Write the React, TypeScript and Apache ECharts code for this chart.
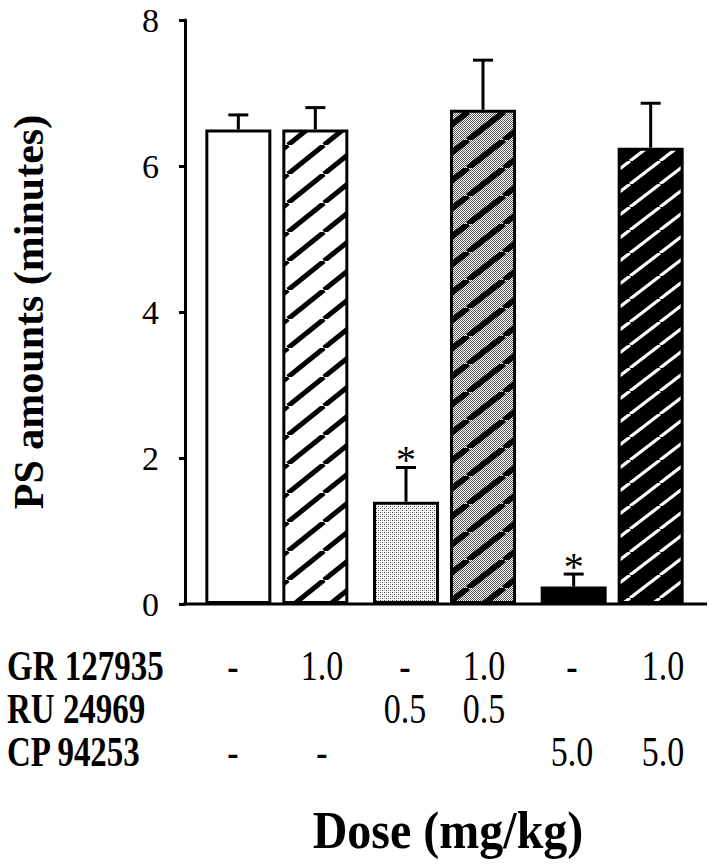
import React, { useEffect, useRef } from 'react';
import * as echarts from 'echarts';

// ---- data ----
const groups = ['Control', 'RU 24969', 'CP 94253'];
const aloneValues = [6.5, 1.4, 0.24];
const aloneErrors = [0.2, 0.47, 0.17];
const aloneSignificant = [false, true, true];
const withGrValues = [6.5, 6.77, 6.25];
const withGrErrors = [0.3, 0.68, 0.61];
const withGrSignificant = [false, false, false];
const yTicks = [0, 2, 4, 6, 8];
const rowLabels = ['GR 127935', 'RU 24969', 'CP 94253'];
const grDoses = ['-', '1.0', '-', '1.0', '-', '1.0'];
const ruDoses = ['', '', '0.5', '0.5', '', ''];
const cpDoses = ['-', '-', '', '', '5.0', '5.0'];
const yTitle = 'PS amounts (minutes)';
const xTitle = 'Dose (mg/kg)';

// ---- layout ----
const BAR_W = 66;
const BAR_GAP_PX = 11;
const HALF_STEP = (BAR_W + BAR_GAP_PX) / 2;
const SERIF = 'Liberation Serif, Times New Roman, serif';
const columnX = [233, 322, 405, 484, 572, 663];
const rowY = [666, 709, 752];
const TEXT_SY = 1.26;

function makeCanvas(w: number, h: number) {
  const c = document.createElement('canvas');
  c.width = w;
  c.height = h;
  return c;
}

function stipple(ctx: CanvasRenderingContext2D, w: number, h: number, dark: boolean) {
  ctx.fillStyle = '#fff';
  ctx.fillRect(0, 0, w, h);
  for (let y = 0; y < h; y++) {
    for (let x = 0; x < w; x++) {
      if (dark) {
        if ((x + y) % 2 === 0) {
          ctx.fillStyle = '#5a5a5a';
          ctx.fillRect(x, y, 1, 1);
        }
      } else {
        if (x % 2 === 0 && y % 2 === 0) {
          ctx.fillStyle = (x + y) % 4 === 0 ? '#3a3a3a' : '#b0b0b0';
          ctx.fillRect(x, y, 1, 1);
        }
      }
    }
  }
}

function stripes(ctx: CanvasRenderingContext2D, w: number, h: number, color: string, lw: number) {
  ctx.strokeStyle = color;
  ctx.lineWidth = lw;
  ctx.lineCap = 'butt';
  for (let k = -1; k <= 1; k++) {
    ctx.beginPath();
    ctx.moveTo(k * w, h);
    ctx.lineTo((k + 1) * w, 0);
    ctx.stroke();
  }
}

function pattern(kind: string) {
  let c: HTMLCanvasElement;
  if (kind === 'lightStipple') {
    c = makeCanvas(4, 4);
    stipple(c.getContext('2d')!, 4, 4, false);
  } else if (kind === 'whiteStripes') {
    const W = 36, H = 29;
    c = makeCanvas(W, H);
    const ctx = c.getContext('2d')!;
    ctx.fillStyle = '#fff';
    ctx.fillRect(0, 0, W, H);
    stripes(ctx, W, H, '#000', 5);
  } else if (kind === 'grayStripes') {
    const W = 36, H = 28;
    c = makeCanvas(W, H);
    const ctx = c.getContext('2d')!;
    stipple(ctx, W, H, true);
    stripes(ctx, W, H, '#000', 6);
  } else {
    const W = 30, H = 23;
    c = makeCanvas(W, H);
    const ctx = c.getContext('2d')!;
    ctx.fillStyle = '#000';
    ctx.fillRect(0, 0, W, H);
    stripes(ctx, W, H, '#fff', 3.2);
  }
  return { image: c, repeat: 'repeat', imageWidth: c.width, imageHeight: c.height } as any;
}

function errorSeries(values: number[], errors: number[], sig: boolean[], offset: number) {
  return {
    type: 'custom',
    z: 5,
    silent: true,
    data: values.map((v, i) => [i, v, errors[i], sig[i] ? 1 : 0]),
    renderItem: (_p: any, api: any) => {
      const i = api.value(0);
      const v = api.value(1);
      const e = api.value(2);
      const base = api.coord([i, v]);
      const top = api.coord([i, v + e]);
      const x = base[0] + offset;
      const children: any[] = [
        { type: 'line', shape: { x1: x, y1: base[1], x2: x, y2: top[1] }, style: { stroke: '#000', lineWidth: 3 } },
        { type: 'line', shape: { x1: x - 10, y1: top[1], x2: x + 10, y2: top[1] }, style: { stroke: '#000', lineWidth: 3 } },
      ];
      if (api.value(3)) {
        children.push({
          type: 'text',
          x,
          y: top[1] - 8,
          style: { text: '*', fontSize: 40, fontFamily: SERIF, fill: '#000', align: 'center', verticalAlign: 'middle' },
        });
      }
      return { type: 'group', children };
    },
  };
}

export default function App() {
  const ref = useRef<HTMLDivElement>(null);
  useEffect(() => {
    if (!ref.current) return;
    const chart = echarts.init(ref.current, undefined, { renderer: 'svg' });

    const aloneStyles = [
      { color: '#fff', borderColor: '#000', borderWidth: 3 },
      { color: pattern('lightStipple'), borderColor: '#000', borderWidth: 3 },
      { color: '#000', borderColor: '#000', borderWidth: 3 },
    ];
    const grStyles = [
      { color: pattern('whiteStripes'), borderColor: '#000', borderWidth: 3 },
      { color: pattern('grayStripes'), borderColor: '#000', borderWidth: 3 },
      { color: pattern('blackStripes'), borderColor: '#000', borderWidth: 3 },
    ];

    const texts: any[] = [];
    const doseRows = [grDoses, ruDoses, cpDoses];
    rowLabels.forEach((lab, r) => {
      texts.push({
        type: 'text',
        x: 7,
        y: rowY[r],
        scaleY: TEXT_SY,
        style: { text: lab, fontSize: 33, fontWeight: 'bold', fontFamily: SERIF, fill: '#000', align: 'left', verticalAlign: 'middle' },
      });
      doseRows[r].forEach((d, c) => {
        if (!d) return;
        texts.push({
          type: 'text',
          x: columnX[c],
          y: rowY[r],
          scaleY: TEXT_SY,
          style: { text: d, fontSize: 34, fontFamily: SERIF, fill: '#000', align: 'center', verticalAlign: 'middle' },
        });
      });
    });
    texts.push({
      type: 'text',
      x: 448,
      y: 830,
      scaleY: 1.12,
      style: { text: xTitle, fontSize: 48, fontWeight: 'bold', fontFamily: SERIF, fill: '#000', align: 'center', verticalAlign: 'middle' },
    });
    texts.push({
      type: 'line',
      shape: { x1: 183, y1: 604, x2: 707, y2: 604 },
      style: { stroke: '#000', lineWidth: 3 },
    });

    chart.setOption({
      animation: false,
      backgroundColor: '#fff',
      grid: { left: 191, width: 505, top: 20, height: 584 },
      xAxis: {
        type: 'category',
        data: groups,
        axisLine: { show: false },
        axisTick: { show: false },
        axisLabel: { show: false },
        splitLine: { show: false },
      },
      yAxis: {
        type: 'value',
        min: yTicks[0],
        max: yTicks[yTicks.length - 1],
        interval: yTicks[1] - yTicks[0],
        offset: 8,
        splitLine: { show: false },
        axisLine: { show: true, lineStyle: { color: '#000', width: 3 } },
        axisTick: { show: true, length: 6, lineStyle: { color: '#000', width: 3 } },
        axisLabel: { color: '#000', fontSize: 34, fontFamily: SERIF, margin: 26 },
        name: yTitle,
        nameLocation: 'middle',
        nameGap: 135,
        nameTextStyle: { fontSize: 42, fontWeight: 'bold', fontFamily: SERIF, color: '#000' },
      },
      series: [
        {
          type: 'bar',
          barWidth: BAR_W,
          barGap: (BAR_GAP_PX / BAR_W) * 100 + '%',
          data: aloneValues.map((v, i) => ({ value: v, itemStyle: aloneStyles[i] })),
        },
        {
          type: 'bar',
          barWidth: BAR_W,
          barGap: (BAR_GAP_PX / BAR_W) * 100 + '%',
          data: withGrValues.map((v, i) => ({ value: v, itemStyle: grStyles[i] })),
        },
        errorSeries(aloneValues, aloneErrors, aloneSignificant, -HALF_STEP),
        errorSeries(withGrValues, withGrErrors, withGrSignificant, HALF_STEP),
      ],
      graphic: texts,
    });
    return () => chart.dispose();
  }, []);
  return <div ref={ref} style={{ position: 'fixed', left: 0, top: 0, width: 714, height: 864, background: '#fff' }} />;
}
